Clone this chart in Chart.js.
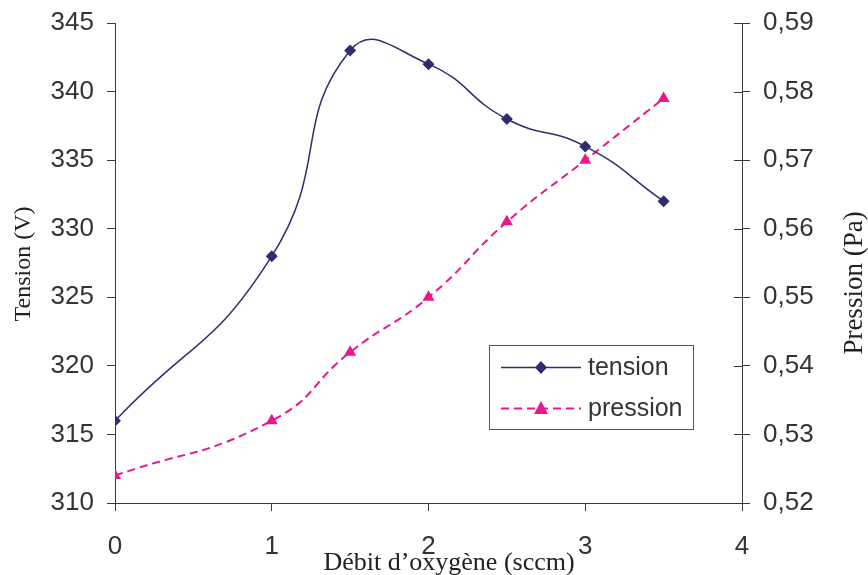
<!DOCTYPE html>
<html>
<head>
<meta charset="utf-8">
<script src="https://cdn.jsdelivr.net/npm/chart.js@4"></script>
<style>
  html, body { margin: 0; padding: 0; background: #fff; }
  #wrap { width: 868px; height: 575px; }
</style>
</head>
<body>
<div id="wrap"><canvas id="chart"></canvas></div>
<script>
// debit d'oxygene (sccm)
const debit = [0, 1, 1.5, 2, 2.5, 3, 3.5];
const tension = [316, 328, 343, 342, 338, 336, 332];
const pression = [0.524, 0.532, 0.542, 0.550, 0.561, 0.570, 0.579];
const xTicks = [0, 1, 2, 3, 4];

const navy = '#2e2e6e';
const pink = '#e8178a';
const axisColor = '#3a3a3a';
const sans = '"Liberation Sans", Arial, sans-serif';
const serif = '"Liberation Serif", "Times New Roman", serif';

const toPoints = (xs, ys) => xs.map((x, i) => ({ x: x, y: ys[i] }));

// titles, legend box and the ticks that cross the right axis
const extras = {
  id: 'extras',
  afterDraw(chart) {
    const ctx = chart.ctx;
    const area = chart.chartArea;
    const right = chart.scales.y2;
    ctx.save();
    ctx.strokeStyle = axisColor;
    ctx.lineWidth = 1;
    right.ticks.forEach(t => {
      const y = Math.round(right.getPixelForValue(t.value)) + 0.5;
      ctx.beginPath();
      ctx.moveTo(area.right - 8, y);
      ctx.lineTo(area.right, y);
      ctx.stroke();
    });

    ctx.fillStyle = '#222';
    ctx.textAlign = 'center';
    ctx.textBaseline = 'alphabetic';
    ctx.font = '26px ' + serif;
    ctx.fillText('D\u00e9bit d\u2019oxyg\u00e8ne (sccm)', 449, 570);

    ctx.textBaseline = 'middle';
    ctx.save();
    ctx.translate(24, 264);
    ctx.rotate(-Math.PI / 2);
    ctx.font = '24px ' + serif;
    ctx.fillText('Tension (V)', 0, 0);
    ctx.restore();

    ctx.save();
    ctx.translate(855, 283);
    ctx.rotate(-Math.PI / 2);
    ctx.font = '27px ' + serif;
    ctx.fillText('Pression (Pa)', 0, 0);
    ctx.restore();

    // legend
    ctx.strokeStyle = '#555';
    ctx.strokeRect(489.5, 345.5, 204, 84);
    ctx.lineWidth = 1.5;
    ctx.strokeStyle = navy;
    ctx.beginPath();
    ctx.moveTo(501, 367.5);
    ctx.lineTo(581, 367.5);
    ctx.stroke();
    ctx.fillStyle = navy;
    ctx.beginPath();
    ctx.moveTo(541, 361);
    ctx.lineTo(547, 367.5);
    ctx.lineTo(541, 374);
    ctx.lineTo(535, 367.5);
    ctx.closePath();
    ctx.fill();

    ctx.strokeStyle = pink;
    ctx.lineWidth = 2;
    ctx.setLineDash([8, 5]);
    ctx.beginPath();
    ctx.moveTo(501, 408.5);
    ctx.lineTo(581, 408.5);
    ctx.stroke();
    ctx.setLineDash([]);
    ctx.fillStyle = pink;
    ctx.beginPath();
    ctx.moveTo(541, 401);
    ctx.lineTo(548, 414);
    ctx.lineTo(534, 414);
    ctx.closePath();
    ctx.fill();

    ctx.fillStyle = '#333';
    ctx.font = '25px ' + sans;
    ctx.textAlign = 'left';
    ctx.fillText('tension', 588, 368);
    ctx.fillText('pression', 588, 409);
    ctx.restore();
  }
};

// fixed axis sizes so the plot area sits where the original one does
const fitY = w => s => { s.width = w; s.paddingTop = 0; s.paddingBottom = 0; };

new Chart(document.getElementById('chart'), {
  type: 'line',
  data: {
    datasets: [{
      label: 'tension',
      data: toPoints(debit, tension),
      yAxisID: 'y',
      borderColor: navy,
      backgroundColor: navy,
      borderWidth: 1.5,
      pointStyle: 'rectRot',
      pointRadius: 6,
      pointHoverRadius: 6,
      pointBorderWidth: 0,
      tension: 0.5,
      fill: false
    }, {
      label: 'pression',
      data: toPoints(debit, pression),
      yAxisID: 'y2',
      borderColor: pink,
      backgroundColor: pink,
      borderWidth: 2,
      borderDash: [8, 5],
      pointStyle: 'triangle',
      pointRadius: 7,
      pointHoverRadius: 7,
      pointBorderWidth: 0,
      tension: 0.5,
      fill: false
    }]
  },
  options: {
    responsive: true,
    maintainAspectRatio: false,
    animation: false,
    events: [],
    layout: { padding: { top: 23, left: 0, right: 0, bottom: 0 } },
    plugins: { legend: { display: false }, tooltip: { enabled: false } },
    scales: {
      x: {
        type: 'linear',
        min: 0,
        max: 4,
        afterFit: s => { s.height = 72; s.paddingLeft = 0; s.paddingRight = 0; },
        afterBuildTicks: s => { s.ticks = xTicks.map(v => ({ value: v })); },
        border: { color: axisColor, width: 1 },
        grid: { drawOnChartArea: false, drawTicks: true, tickLength: 8, color: axisColor },
        ticks: { color: '#333', padding: 20, font: { family: sans, size: 26 } }
      },
      y: {
        position: 'left',
        min: 310,
        max: 345,
        afterFit: fitY(115),
        border: { color: axisColor, width: 1 },
        grid: { drawOnChartArea: false, drawTicks: true, tickLength: 8, color: axisColor },
        ticks: { stepSize: 5, color: '#333', padding: 13, font: { family: sans, size: 26 } }
      },
      y2: {
        position: 'right',
        min: 0.52,
        max: 0.59,
        afterFit: fitY(126),
        border: { color: axisColor, width: 1 },
        grid: { drawOnChartArea: false, drawTicks: true, tickLength: 8, color: axisColor },
        ticks: {
          stepSize: 0.01,
          color: '#333',
          padding: 13,
          font: { family: sans, size: 26 },
          callback: v => v.toFixed(2).replace('.', ',')
        }
      }
    }
  },
  plugins: [extras]
});
</script>
</body>
</html>
